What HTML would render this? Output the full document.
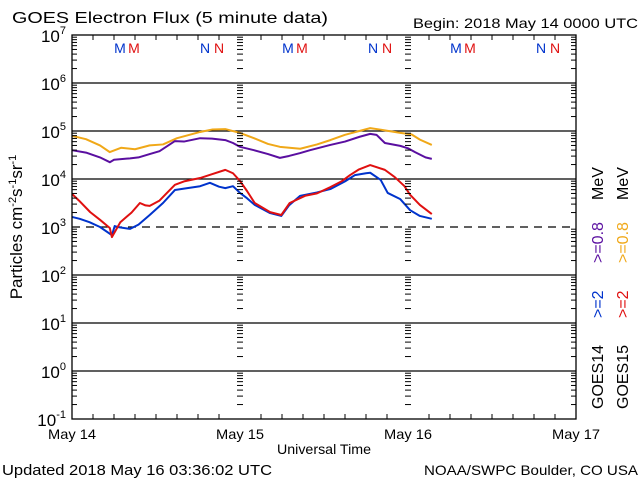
<!DOCTYPE html>
<html><head><meta charset="utf-8"><style>
html,body{margin:0;padding:0;background:#fff;}
svg{display:block;font-family:"Liberation Sans","DejaVu Sans",sans-serif;}
</style></head><body>
<svg id="chart" width="640" height="480" viewBox="0 0 640 480">
<rect width="640" height="480" fill="#fff"/>
<text x="12" y="23" font-size="16" textLength="316" lengthAdjust="spacingAndGlyphs">GOES Electron Flux (5 minute data)</text>
<text x="413" y="28" font-size="14" textLength="225" lengthAdjust="spacingAndGlyphs">Begin: 2018 May 14 0000 UTC</text>
<text x="2" y="475" font-size="15" textLength="270" lengthAdjust="spacingAndGlyphs">Updated 2018 May 16 03:36:02 UTC</text>
<text x="424" y="475" font-size="14" textLength="214" lengthAdjust="spacingAndGlyphs">NOAA/SWPC Boulder, CO USA</text>
<text x="277" y="454" font-size="14" textLength="94" lengthAdjust="spacingAndGlyphs">Universal Time</text>
<text transform="translate(22,227) rotate(-90)" font-size="17" text-anchor="middle">Particles cm<tspan dy="-6" font-size="11">-2</tspan><tspan dy="6">s</tspan><tspan dy="-6" font-size="11">-1</tspan><tspan dy="6">sr</tspan><tspan dy="-6" font-size="11">-1</tspan></text>
<g id="grid"></g>
<g id="series"></g>
<g id="axes"></g>
<g font-size="16">
<g transform="translate(603,409) rotate(-90)">
<text x="0" y="0" fill="#000">GOES14</text><text x="91" y="0" fill="#0033cc">&gt;=2</text><text x="146" y="0" fill="#5a0fa0">&gt;=0.8</text><text x="209" y="0" fill="#000">MeV</text></g>
<g transform="translate(628,409) rotate(-90)">
<text x="0" y="0" fill="#000">GOES15</text><text x="91" y="0" fill="#e01010">&gt;=2</text><text x="146" y="0" fill="#f0a818">&gt;=0.8</text><text x="209" y="0" fill="#000">MeV</text></g>
</g>
</svg>
<script>
// hours since 2018 May 14 0000 UTC
const hoursPurple = [0,2,4,5.4,6,8.3,9.5,11.1,12.5,14.7,16,18.3,20,21.9,23,24,26,28,29.7,31,32.6,34,36.9,39,41.1,42.6,43.5,44.7,46.9,48,49,50.5,51.4];
const logPurple   = [4.6,4.55,4.45,4.35,4.4,4.43,4.45,4.52,4.58,4.79,4.78,4.85,4.84,4.81,4.75,4.67,4.6,4.52,4.44,4.48,4.54,4.6,4.71,4.78,4.88,4.94,4.92,4.75,4.69,4.64,4.56,4.45,4.42];
const hoursOrange = [0,2,4,5.4,7,9,11.1,13,15,18.3,20,21.9,24,26,28,29.7,32.6,35,36.9,39,42.6,44,46.9,48.5,49.7,51.4];
const logOrange   = [4.9,4.83,4.7,4.56,4.65,4.62,4.7,4.72,4.85,4.98,5.03,5.04,4.96,4.85,4.73,4.67,4.63,4.72,4.81,4.92,5.06,5.03,4.96,4.93,4.82,4.71];
const hoursRed = [0,1,2.6,4,5.4,5.7,6.9,8.5,9.7,10.5,11.1,12.5,13.3,14.7,16,18.3,20,21.9,23,24,25,26.1,28.3,29.9,31.1,33.3,35,36.9,38.5,39.7,41,42.6,44.7,46.1,47.5,48.3,49.7,51.4];
const logRed   = [3.69,3.55,3.31,3.15,2.98,2.79,3.1,3.3,3.5,3.45,3.44,3.55,3.67,3.88,3.95,4.02,4.1,4.19,4.12,3.96,3.75,3.5,3.31,3.25,3.5,3.65,3.7,3.83,3.95,4.08,4.2,4.29,4.19,4.04,3.85,3.67,3.46,3.27];
const hoursBlue = [0,1.1,2.5,4,5.7,6.1,6.5,8.3,9.5,11.1,13,14.7,16,18.3,19.7,21,21.9,23,24,25,26.1,28.3,29.9,31,32.6,35,36.9,39,40.4,42,42.6,44.1,45.1,46.9,48.3,49.7,51.4];
const logBlue   = [3.21,3.17,3.1,3.0,2.83,3.02,3.0,2.96,3.05,3.25,3.5,3.77,3.8,3.85,3.92,3.84,3.81,3.85,3.71,3.6,3.46,3.29,3.23,3.45,3.65,3.72,3.79,3.95,4.08,4.12,4.13,3.98,3.71,3.58,3.35,3.23,3.17];
const yTickExp = [7,6,5,4,3,2,1,0,-1];
const dayLabels = ["May 14","May 15","May 16","May 17"];
const NS="http://www.w3.org/2000/svg";
const L=72,R=576,T=35,B=419;
const xS=h=>L+(R-L)*h/72;
const yS=v=>T+(B-T)*(7-v)/8;
function mk(tag,attrs,parent){const e=document.createElementNS(NS,tag);for(const k in attrs)e.setAttribute(k,attrs[k]);parent.appendChild(e);return e;}
const grid=document.getElementById('grid'),axes=document.getElementById('axes'),ser=document.getElementById('series');
for(const e of [6,5,4,2,1,0]){const l=mk('line',{x1:L,x2:R,y1:yS(e),y2:yS(e),stroke:'#000','stroke-width':1.3},grid);

}
const dl=mk('line',{x1:L,x2:R,y1:yS(3),y2:yS(3),stroke:'#000','stroke-width':1.3,'stroke-dasharray':'8,6'},grid);


const fr=mk('rect',{x:L,y:T,width:R-L,height:B-T,fill:'none',stroke:'#000','stroke-width':1.3},axes);


yTickExp.forEach(e=>{
  const y=yS(e);
  const t=mk('text',{x:L-6,y:y+7,'font-size':17,'text-anchor':'end'},axes);
  
  
  t.innerHTML='10<tspan dy="-8" font-size="11">'+e+'</tspan>';
  if(e>-1){for(let m=2;m<=9;m++){const yy=yS(e-1+Math.log10(m));
    mk('line',{x1:L,x2:L+5,y1:yy,y2:yy,stroke:'#000'},axes);
    mk('line',{x1:R,x2:R-5,y1:yy,y2:yy,stroke:'#000'},axes);
    for(const d of [1,2]){const xd=xS(d*24);mk('line',{x1:xd-3,x2:xd+3,y1:yy,y2:yy,stroke:'#000'},axes);}
  }}
});
for(let h=3;h<72;h+=3){const x=xS(h);const len=h%24===0?0:5;
  mk('line',{x1:x,x2:x,y1:B,y2:B-len,stroke:'#000'},axes);mk('line',{x1:x,x2:x,y1:T,y2:T+len,stroke:'#000'},axes);}
dayLabels.forEach((d,i)=>{const t=mk('text',{x:xS(i*24)-24,y:439,'font-size':14,textLength:48,lengthAdjust:'spacingAndGlyphs'},axes);t.textContent=d;

});
const marks=[[120,'M','#0033cc'],[134,'M','#e01010'],[205,'N','#0033cc'],[219,'N','#e01010']];
for(let d=0;d<3;d++)marks.forEach(m=>{const t=mk('text',{x:m[0]+d*168,y:53,'font-size':14,'text-anchor':'middle',fill:m[2]},axes);t.textContent=m[1];

});
function line(hs,vs,color,name){const p=mk('polyline',{points:hs.map((h,i)=>xS(h)+','+yS(vs[i])).join(' '),fill:'none',stroke:color,'stroke-width':2,'stroke-linejoin':'round'},ser);

}
line(hoursOrange,logOrange,'#f0a818','goes15-0.8mev-line');
line(hoursPurple,logPurple,'#5a0fa0','goes14-0.8mev-line');
line(hoursBlue,logBlue,'#0033cc','goes14-2mev-line');
line(hoursRed,logRed,'#e01010','goes15-2mev-line');
</script>
</body></html>
